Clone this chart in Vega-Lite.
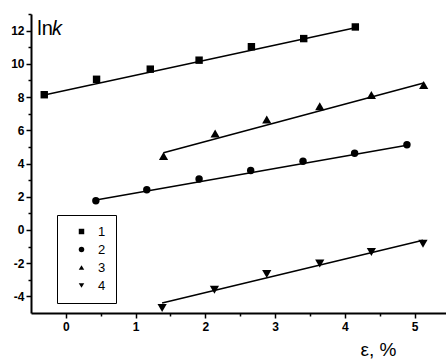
{
  "$schema": "https://vega.github.io/schema/vega-lite/v6.json",
  "width": 415,
  "height": 299,
  "autosize": {"type": "none"},
  "padding": {"left": 31, "top": 14, "right": 0, "bottom": 46},
  "background": "white",
  "config": {"view": {"stroke": null}, "font": "Liberation Sans"},
  "datasets": {
    "pts": [
      {"s": "1", "x": -0.31, "y": 8.14}, {"s": "1", "x": 0.44, "y": 9.07}, {"s": "1", "x": 1.21, "y": 9.68}, {"s": "1", "x": 1.91, "y": 10.22}, {"s": "1", "x": 2.66, "y": 11.03}, {"s": "1", "x": 3.41, "y": 11.52}, {"s": "1", "x": 4.15, "y": 12.22},
      {"s": "2", "x": 0.43, "y": 1.76}, {"s": "2", "x": 1.16, "y": 2.42}, {"s": "2", "x": 1.91, "y": 3.07}, {"s": "2", "x": 2.65, "y": 3.58}, {"s": "2", "x": 3.40, "y": 4.14}, {"s": "2", "x": 4.14, "y": 4.62}, {"s": "2", "x": 4.89, "y": 5.13},
      {"s": "3", "x": 1.40, "y": 4.45}, {"s": "3", "x": 2.14, "y": 5.8}, {"s": "3", "x": 2.88, "y": 6.65}, {"s": "3", "x": 3.64, "y": 7.45}, {"s": "3", "x": 4.38, "y": 8.12}, {"s": "3", "x": 5.13, "y": 8.73},
      {"s": "4", "x": 1.38, "y": -4.7}, {"s": "4", "x": 2.13, "y": -3.6}, {"s": "4", "x": 2.88, "y": -2.65}, {"s": "4", "x": 3.64, "y": -2.02}, {"s": "4", "x": 4.38, "y": -1.33}, {"s": "4", "x": 5.12, "y": -0.83}
    ],
    "fit": [
      {"s": "1", "x": -0.31, "y": 8.12}, {"s": "1", "x": 4.15, "y": 12.17},
      {"s": "2", "x": 0.43, "y": 1.8}, {"s": "2", "x": 4.89, "y": 5.1},
      {"s": "3", "x": 1.40, "y": 4.65}, {"s": "3", "x": 5.13, "y": 8.85},
      {"s": "4", "x": 1.38, "y": -4.4}, {"s": "4", "x": 5.12, "y": -0.62}
    ],
    "labels": [
      {"t": "ln", "x": -0.41, "y": 11.76},
      {"t": "k", "x": -0.2, "y": 11.76}
    ]
  },
  "encoding": {
    "x": {
      "field": "x", "type": "quantitative",
      "scale": {"domain": [-0.5, 5.45], "nice": false, "zero": false},
      "axis": {
        "values": [0, 0.5, 1, 1.5, 2, 2.5, 3, 3.5, 4, 4.5, 5],
        "labelExpr": "datum.value % 1 == 0 ? '' + datum.value : ''",
        "tickSize": {"condition": {"test": "datum.value % 1 == 0", "value": 5}, "value": 3},
        "labelOverlap": false, "labelFlush": false,
        "grid": false, "domainColor": "black", "domainWidth": 2, "tickColor": "black", "tickWidth": 1.5,
        "labelColor": "black", "labelFontSize": 12, "labelPadding": 3, "labelFontWeight": "bold",
        "title": "ε, %", "titleFontSize": 19, "titleFontWeight": "normal", "titleColor": "black",
        "titleX": 347, "titleY": 42, "titleAlign": "center", "titleBaseline": "alphabetic", "titleAnchor": null
      }
    },
    "y": {
      "field": "y", "type": "quantitative",
      "scale": {"domain": [-5, 13], "nice": false, "zero": false},
      "axis": {
        "values": [-4, -3, -2, -1, 0, 1, 2, 3, 4, 5, 6, 7, 8, 9, 10, 11, 12, 13],
        "labelExpr": "datum.value % 2 == 0 ? '' + datum.value : ''",
        "tickSize": {"condition": {"test": "datum.value % 2 == 0", "value": 5}, "value": 3},
        "labelOverlap": false, "labelFlush": false,
        "grid": false, "domainColor": "black", "domainWidth": 2, "tickColor": "black", "tickWidth": 1.5,
        "labelColor": "black", "labelFontSize": 12, "labelPadding": 2, "labelFontWeight": "bold",
        "title": null
      }
    }
  },
  "layer": [
    {
      "data": {"name": "fit"},
      "mark": {"type": "line", "color": "black", "strokeWidth": 1.5},
      "encoding": {"detail": {"field": "s"}}
    },
    {
      "data": {"name": "pts"},
      "transform": [{"filter": "datum.s == '1' || datum.s == '2'"}],
      "mark": {"type": "point", "filled": true, "color": "black", "opacity": 1, "size": 55},
      "encoding": {
        "shape": {
          "field": "s", "type": "nominal",
          "scale": {"domain": ["1", "2", "3", "4"], "range": ["square", "circle", "triangle-up", "triangle-down"]},
          "legend": {
            "orient": "none", "legendX": 26, "legendY": 201, "title": null,
            "strokeColor": "black", "fillColor": "white", "padding": 10, "symbolOffset": 8,
            "symbolSize": 30, "symbolFillColor": "black", "symbolStrokeWidth": 0,
            "labelFontSize": 13, "labelColor": "black", "labelOffset": 10, "rowPadding": 4
          }
        }
      }
    },
    {
      "data": {"name": "pts"},
      "transform": [{"filter": "datum.s == '3' || datum.s == '4'"}],
      "mark": {"type": "point", "filled": true, "color": "black", "opacity": 1, "size": 85},
      "encoding": {
        "shape": {
          "field": "s", "type": "nominal",
          "scale": {"domain": ["1", "2", "3", "4"], "range": ["square", "circle", "triangle-up", "triangle-down"]},
          "legend": {
            "orient": "none", "legendX": 26, "legendY": 201, "title": null,
            "strokeColor": "black", "fillColor": "white", "padding": 10, "symbolOffset": 8,
            "symbolSize": 30, "symbolFillColor": "black", "symbolStrokeWidth": 0,
            "labelFontSize": 13, "labelColor": "black", "labelOffset": 10, "rowPadding": 4
          }
        }
      }
    },
    {
      "data": {"name": "labels"},
      "transform": [{"filter": "datum.t == 'ln'"}],
      "mark": {"type": "text", "align": "left", "baseline": "alphabetic", "fontSize": 20, "color": "black"},
      "encoding": {"text": {"field": "t"}}
    },
    {
      "data": {"name": "labels"},
      "transform": [{"filter": "datum.t == 'k'"}],
      "mark": {"type": "text", "align": "left", "baseline": "alphabetic", "fontSize": 20, "fontStyle": "italic", "color": "black"},
      "encoding": {"text": {"field": "t"}}
    }
  ]
}
